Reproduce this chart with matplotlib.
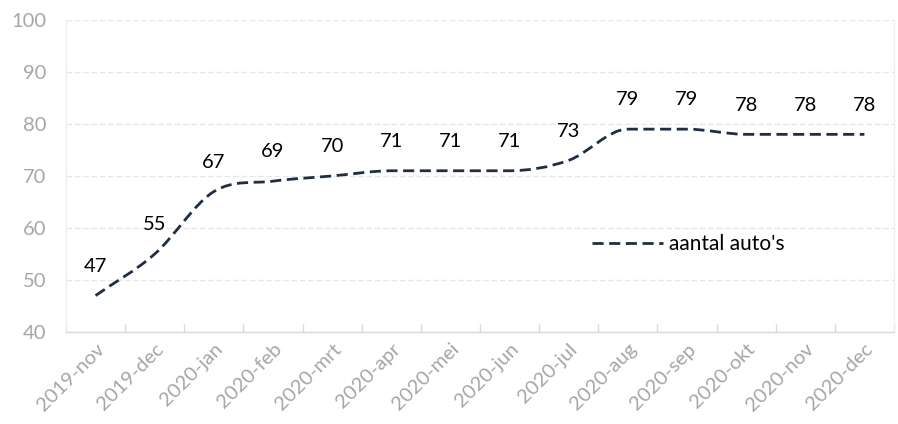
import numpy as np
import matplotlib.pyplot as plt
from matplotlib.path import Path
from matplotlib.patches import PathPatch
from matplotlib.lines import Line2D

plt.rcParams['font.family'] = ['Lato', 'DejaVu Sans']

months = ['2019-nov', '2019-dec', '2020-jan', '2020-feb', '2020-mrt', '2020-apr', '2020-mei',
          '2020-jun', '2020-jul', '2020-aug', '2020-sep', '2020-okt', '2020-nov', '2020-dec']
auto_s = [47, 55, 67, 69, 70, 71, 71, 71, 73, 79, 79, 78, 78, 78]

line_col = '#1f2d45'
grid_col = '#e6e6e6'
txt_col = '#a6a6a6'
dash = (0, (4, 2))

fig = plt.figure(figsize=(8.98, 4.24), dpi=100)
ax = fig.add_axes([0.0735, 0.217, 0.922, 0.736])

x = np.arange(len(months), dtype=float)
y = np.array(auto_s, dtype=float)
n = len(x)

# lightly smoothed line, flat tangents at local extremes / plateaus
tang = np.zeros(n)
for i in range(n):
    a, b = max(i - 1, 0), min(i + 1, n - 1)
    if 0 < i < n - 1 and (y[i] - y[i - 1]) * (y[b] - y[i]) <= 0:
        tang[i] = 0
    else:
        tang[i] = (y[b] - y[a]) / (b - a)
verts = [(x[0], y[0])]
codes = [Path.MOVETO]
for i in range(n - 1):
    c1 = (x[i] + 1 / 3, y[i] + tang[i] / 3)
    c2 = (x[i + 1] - 1 / 3, y[i + 1] - tang[i + 1] / 3)
    verts += [c1, c2, (x[i + 1], y[i + 1])]
    codes += [Path.CURVE4] * 3
ax.add_patch(PathPatch(Path(verts, codes), fill=False, edgecolor=line_col, lw=2,
                       linestyle=dash, zorder=3))

for xi, yi in zip(x, auto_s):
    ax.annotate(str(yi), (xi, yi), xytext=(0, 21), textcoords='offset points',
                ha='center', va='center', fontsize=14.5, color='black')

ax.set_xlim(-0.5, n - 0.5)
ax.set_ylim(40, 100)
ax.set_yticks(range(40, 101, 10))
ax.set_xticks(x)
ax.set_xticklabels(months, rotation=45, ha='right', rotation_mode='anchor')
ax.set_xticks(np.arange(-0.5, n, 1), minor=True)
ax.tick_params(axis='x', which='major', length=0, labelsize=14.5, labelcolor=txt_col, pad=6)
ax.tick_params(axis='x', which='minor', length=6, direction='in', color='#d9d9d9', width=1)
ax.tick_params(axis='y', length=0, labelsize=14.5, labelcolor=txt_col, pad=14)

ax.grid(axis='y', color=grid_col, linestyle=(0, (4, 2)), lw=1)
ax.set_axisbelow(True)
for s in ax.spines.values():
    s.set_color('#f0f0f0')
    s.set_linewidth(1)
ax.spines['bottom'].set_color('#d9d9d9')
ax.spines['top'].set_visible(False)

handle = Line2D([], [], color=line_col, lw=2, linestyle=dash)
ax.legend([handle], ["aantal auto's"], loc='center left', bbox_to_anchor=(0.635, 0.282),
          frameon=False, fontsize=15, handlelength=3.4, handletextpad=0.3,
          borderpad=0, borderaxespad=0)

fig.savefig('out.png', dpi=100)
